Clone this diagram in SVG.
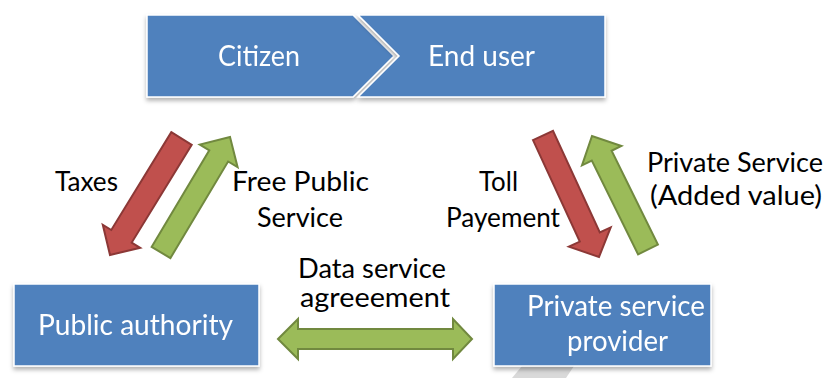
<svg xmlns="http://www.w3.org/2000/svg" width="828" height="378" viewBox="0 0 828 378">
  <defs>
    <filter id="shadow" x="-10%" y="-20%" width="120%" height="150%">
      <feDropShadow dx="0" dy="3" stdDeviation="2.2" flood-color="#000" flood-opacity="0.3"/>
    </filter>
    <style>
      .box { fill: #4F81BD; stroke: #ffffff; stroke-width: 1.5; }
      .wlabel { font-family: Lato, "Open Sans", "Liberation Sans", sans-serif; font-size: 28px; fill: #ffffff; text-anchor: middle; }
      .blabel { font-family: Lato, "Open Sans", "Liberation Sans", sans-serif; font-size: 27px; fill: #000000; text-anchor: middle; }
      .tight { font-size: 26px; }
      .red { fill: #C0504D; stroke: #8C3836; stroke-width: 2; stroke-linejoin: miter; }
      .green { fill: #9BBB59; stroke: #71893F; stroke-width: 2; stroke-linejoin: miter; }
    </style>
  </defs>

  <rect width="828" height="378" fill="#ffffff"/>

  <!-- faint grey shape peeking below the provider box -->
  <polygon points="522,366 574,366 566,378 512,378" fill="#d9d9d9"/>

  <!-- chevron process bar -->
  <g id="citizen" filter="url(#shadow)">
    <polygon class="box" points="147,15 353,15 394,56 353,97 147,97"/>
    <text class="wlabel" x="259" y="66" textLength="82" lengthAdjust="spacingAndGlyphs">Citizen</text>
  </g>
  <g id="end-user" filter="url(#shadow)">
    <polygon class="box" points="358,15 605,15 605,97 358,97 399,56"/>
    <text class="wlabel" x="481.5" y="66" textLength="107" lengthAdjust="spacingAndGlyphs">End user</text>
  </g>

  <g id="public-authority" filter="url(#shadow)">
    <rect class="box" x="14" y="284" width="245" height="82"/>
    <text class="wlabel" x="135.5" y="335" textLength="195" lengthAdjust="spacingAndGlyphs">Public authority</text>
  </g>

  <g id="private-provider" filter="url(#shadow)">
    <rect class="box" x="494" y="284" width="217" height="82"/>
    <text class="wlabel" x="616" y="316" textLength="178" lengthAdjust="spacingAndGlyphs">Private service</text>
    <text class="wlabel" x="617.5" y="351" textLength="101" lengthAdjust="spacingAndGlyphs">provider</text>
  </g>

  <!-- flows between the parties -->
  <g id="connectors">
    <polygon id="taxes-arrow" class="red" points="171.3,132.2 191.7,144.8 131.7,242.6 140.2,247.8 110,255 102.8,224.8 111.3,230"/>
    <polygon id="public-service-arrow" class="green" points="151.6,246.9 209.3,150.3 199.8,144.6 230,137 237.6,167.2 228.1,161.5 170.4,258.1"/>
    <polygon id="toll-arrow" class="red" points="533,140.1 553,130.9 599.8,232.4 610.7,227.4 599,257 568.9,246.6 579.8,241.6"/>
    <polygon id="private-service-arrow" class="green" points="638.1,254.4 657.9,244.6 611.6,150.8 621.4,146 592,136 582,165.4 591.8,160.6"/>
    <polygon id="agreement-arrow" class="green" points="278,339 298,319 298,329 453,329 453,319 472,339 453,359 453,349 298,349 298,359"/>

    <text class="blabel" x="86.5" y="191" textLength="63" lengthAdjust="spacingAndGlyphs">Taxes</text>
    <text class="blabel" x="300.5" y="191" textLength="137" lengthAdjust="spacingAndGlyphs">Free Public</text>
    <text class="blabel" x="300" y="227" textLength="86" lengthAdjust="spacingAndGlyphs">Service</text>
    <text class="blabel" x="498.5" y="191" textLength="39" lengthAdjust="spacingAndGlyphs">Toll</text>
    <text class="blabel" x="503" y="227" textLength="114" lengthAdjust="spacingAndGlyphs">Payement</text>
    <text class="blabel" x="735" y="172" textLength="176" lengthAdjust="spacingAndGlyphs">Private Service</text>
    <text class="blabel" x="736" y="205" textLength="172" lengthAdjust="spacingAndGlyphs">(Added value)</text>
    <text class="blabel tight" x="372" y="278" textLength="148" lengthAdjust="spacingAndGlyphs">Data service</text>
    <text class="blabel tight" x="375" y="307" textLength="150" lengthAdjust="spacingAndGlyphs">agreeement</text>
  </g>
</svg>
